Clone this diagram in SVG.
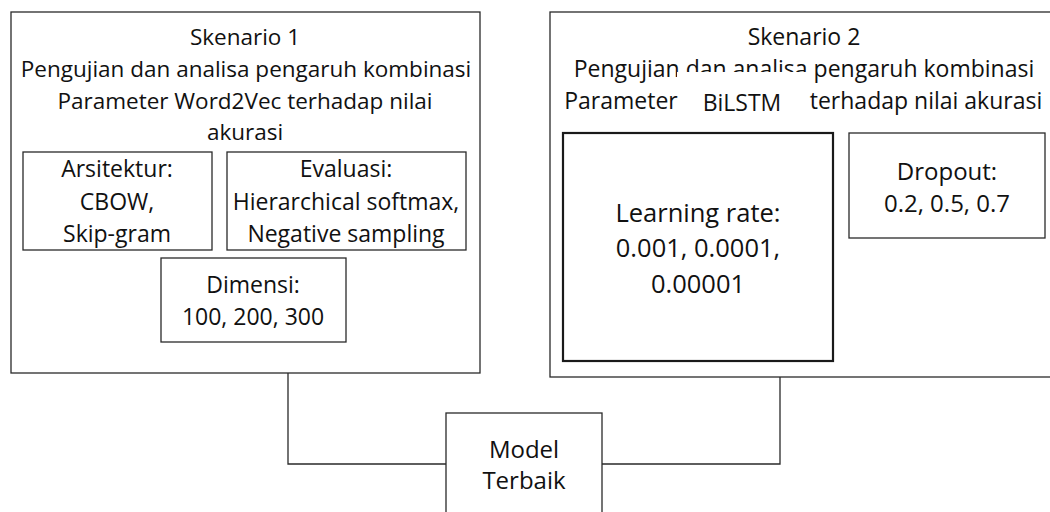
<svg xmlns="http://www.w3.org/2000/svg" width="1050" height="512" viewBox="0 0 1050 512">
<style>
text{font-family:"Open Sans","Noto Sans","Liberation Sans",sans-serif;font-size:22.5px;fill:#111;text-anchor:middle}
.s23{font-size:23px}
.s24{font-size:24px}
.s25{font-size:25.5px}
.b{fill:#fff;stroke:#2a2a2a;stroke-width:1.3}
.bt{fill:#fff;stroke:#1a1a1a;stroke-width:2.2}
.c{fill:none;stroke:#2a2a2a;stroke-width:1.3}
</style>
<rect width="1050" height="512" fill="#fff"/>
<g id="connectors">
<polyline class="c" points="288,373 288,464 446,464"/>
<polyline class="c" points="602,464 780,464 780,377"/>
</g>
<g id="skenario1">
<rect class="b" x="11" y="12" width="469" height="361"/>
<text x="245" y="45">Skenario 1</text>
<text x="246" y="77">Pengujian dan analisa pengaruh kombinasi</text>
<text x="245" y="109">Parameter Word2Vec terhadap nilai</text>
<text x="245" y="140">akurasi</text>
</g>
<g id="arsitektur" class="s23">
<rect class="b" x="23" y="152" width="189" height="98"/>
<text class="s23" x="117" y="177">Arsitektur:</text>
<text class="s23" x="117" y="210">CBOW,</text>
<text class="s23" x="117" y="242">Skip-gram</text>
</g>
<g id="evaluasi">
<rect class="b" x="227" y="152" width="239" height="98"/>
<text class="s23" x="346" y="177">Evaluasi:</text>
<text class="s23" x="346" y="210">Hierarchical softmax,</text>
<text class="s23" x="346" y="242">Negative sampling</text>
</g>
<g id="dimensi">
<rect class="b" x="161" y="258" width="185" height="84"/>
<text class="s23" x="253" y="293">Dimensi:</text>
<text class="s23" x="253" y="325">100, 200, 300</text>
</g>
<g id="skenario2">
<rect class="b" x="550" y="12" width="510" height="365"/>
<text class="s23" x="804" y="45">Skenario 2</text>
<text class="s23" x="804" y="77">Pengujian dan analisa pengaruh kombinasi</text>
<rect x="677" y="72" width="131" height="46" fill="#fff"/>
<text class="s23" x="621" y="109">Parameter</text>
<text class="s23" x="742" y="111">BiLSTM</text>
<text class="s23" x="926" y="109">terhadap nilai akurasi</text>
</g>
<g id="learning-rate">
<rect class="bt" x="563" y="133" width="270" height="228"/>
<text class="s25" x="698" y="222">Learning rate:</text>
<text class="s25" x="698" y="257">0.001, 0.0001,</text>
<text class="s25" x="698" y="293">0.00001</text>
</g>
<g id="dropout">
<rect class="b" x="849" y="133" width="196" height="105"/>
<text class="s24" x="947" y="180">Dropout:</text>
<text class="s24" x="947" y="212">0.2, 0.5, 0.7</text>
</g>
<g id="model-terbaik">
<rect class="b" x="446" y="413" width="156" height="110"/>
<text class="s24" x="524" y="458">Model</text>
<text class="s24" x="524" y="489">Terbaik</text>
</g>
</svg>
